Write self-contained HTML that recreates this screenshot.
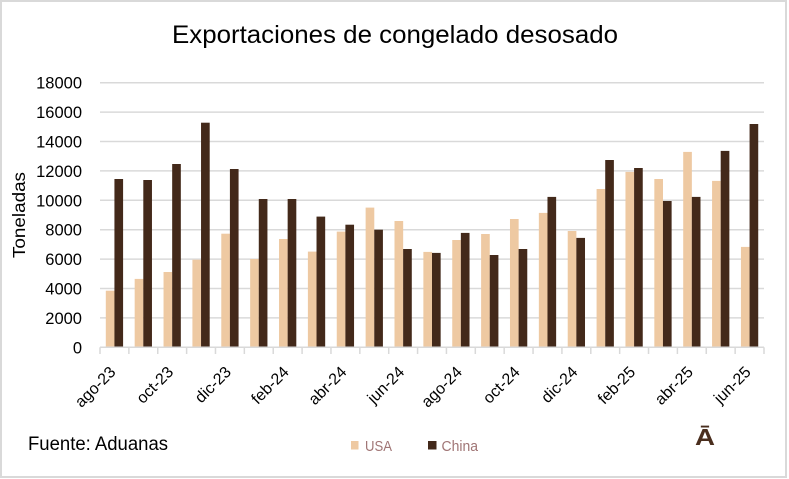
<!DOCTYPE html>
<html>
<head>
<meta charset="utf-8">
<style>
  html,body{margin:0;padding:0;background:#fff;}
  svg{display:block;}
  text{font-family:"Liberation Sans", sans-serif;}
</style>
</head>
<body>
<svg width="789" height="479" viewBox="0 0 789 479" xmlns="http://www.w3.org/2000/svg">
  <rect x="0" y="0" width="789" height="479" fill="#fff"/>
  <rect x="1" y="1" width="785" height="476" fill="none" stroke="#d9d9d9" stroke-width="2"/>

  <!-- Title -->
  <text x="172" y="43" font-size="25" fill="#000" textLength="446" lengthAdjust="spacingAndGlyphs">Exportaciones de congelado desosado</text>

  <!-- Gridlines -->
  <g stroke="#d9d9d9" stroke-width="1.5">
    <line x1="100" y1="82.7" x2="764" y2="82.7"/>
    <line x1="100" y1="112.1" x2="764" y2="112.1"/>
    <line x1="100" y1="141.5" x2="764" y2="141.5"/>
    <line x1="100" y1="170.9" x2="764" y2="170.9"/>
    <line x1="100" y1="200.3" x2="764" y2="200.3"/>
    <line x1="100" y1="229.7" x2="764" y2="229.7"/>
    <line x1="100" y1="259.1" x2="764" y2="259.1"/>
    <line x1="100" y1="288.5" x2="764" y2="288.5"/>
    <line x1="100" y1="317.9" x2="764" y2="317.9"/>
  </g>

  <!-- Y labels -->
  <g font-size="16.5" fill="#000" text-anchor="end">
    <text x="82" y="88.7">18000</text>
    <text x="82" y="118.1">16000</text>
    <text x="82" y="147.5">14000</text>
    <text x="82" y="176.9">12000</text>
    <text x="82" y="206.3">10000</text>
    <text x="82" y="235.7">8000</text>
    <text x="82" y="265.1">6000</text>
    <text x="82" y="294.5">4000</text>
    <text x="82" y="323.9">2000</text>
    <text x="82" y="353.3">0</text>
  </g>

  <!-- Y title -->
  <text transform="translate(25,215) rotate(-90)" font-size="17.5" text-anchor="middle" fill="#000" textLength="86" lengthAdjust="spacingAndGlyphs">Toneladas</text>

  <!-- USA bars -->
  <g fill="#EEC9A2">
    <rect x="105.8" y="290.7" width="8.66" height="56.6"/>
    <rect x="134.67" y="278.9" width="8.66" height="68.4"/>
    <rect x="163.54" y="272.0" width="8.66" height="75.3"/>
    <rect x="192.41" y="259.7" width="8.66" height="87.6"/>
    <rect x="221.28" y="233.7" width="8.66" height="113.6"/>
    <rect x="250.15" y="259.0" width="8.66" height="88.3"/>
    <rect x="279.02" y="239.0" width="8.66" height="108.3"/>
    <rect x="307.89" y="251.6" width="8.66" height="95.7"/>
    <rect x="336.76" y="231.6" width="8.66" height="115.7"/>
    <rect x="365.63" y="207.6" width="8.66" height="139.7"/>
    <rect x="394.5" y="221.0" width="8.66" height="126.3"/>
    <rect x="423.37" y="251.9" width="8.66" height="95.4"/>
    <rect x="452.24" y="240.0" width="8.66" height="107.3"/>
    <rect x="481.11" y="234.0" width="8.66" height="113.3"/>
    <rect x="509.98" y="219.0" width="8.66" height="128.3"/>
    <rect x="538.85" y="212.9" width="8.66" height="134.4"/>
    <rect x="567.72" y="231.0" width="8.66" height="116.3"/>
    <rect x="596.59" y="189.0" width="8.66" height="158.3"/>
    <rect x="625.46" y="171.9" width="8.66" height="175.4"/>
    <rect x="654.33" y="179.0" width="8.66" height="168.3"/>
    <rect x="683.2" y="151.9" width="8.66" height="195.4"/>
    <rect x="712.07" y="180.9" width="8.66" height="166.4"/>
    <rect x="740.94" y="246.9" width="8.66" height="100.4"/>
  </g>

  <!-- China bars -->
  <g fill="#43291A">
    <rect x="114.43" y="179.0" width="8.66" height="168.3"/>
    <rect x="143.3" y="180.0" width="8.66" height="167.3"/>
    <rect x="172.17" y="164.0" width="8.66" height="183.3"/>
    <rect x="201.04" y="122.7" width="8.66" height="224.6"/>
    <rect x="229.91" y="169.0" width="8.66" height="178.3"/>
    <rect x="258.78" y="199.0" width="8.66" height="148.3"/>
    <rect x="287.65" y="199.0" width="8.66" height="148.3"/>
    <rect x="316.52" y="216.6" width="8.66" height="130.7"/>
    <rect x="345.39" y="224.7" width="8.66" height="122.6"/>
    <rect x="374.26" y="229.7" width="8.66" height="117.6"/>
    <rect x="403.13" y="249.0" width="8.66" height="98.3"/>
    <rect x="432.0" y="252.9" width="8.66" height="94.4"/>
    <rect x="460.87" y="232.9" width="8.66" height="114.4"/>
    <rect x="489.74" y="255.0" width="8.66" height="92.3"/>
    <rect x="518.61" y="249.0" width="8.66" height="98.3"/>
    <rect x="547.48" y="196.9" width="8.66" height="150.4"/>
    <rect x="576.35" y="237.9" width="8.66" height="109.4"/>
    <rect x="605.22" y="160.0" width="8.66" height="187.3"/>
    <rect x="634.09" y="168.0" width="8.66" height="179.3"/>
    <rect x="662.96" y="201.0" width="8.66" height="146.3"/>
    <rect x="691.83" y="196.9" width="8.66" height="150.4"/>
    <rect x="720.7" y="150.9" width="8.66" height="196.4"/>
    <rect x="749.57" y="124.0" width="8.66" height="223.3"/>
  </g>

  <!-- X axis + ticks -->
  <g stroke="#d9d9d9" stroke-width="1.5">
    <line x1="100" y1="347.3" x2="764" y2="347.3"/>
    <line x1="100" y1="347.3" x2="100" y2="354"/>
    <line x1="128.87" y1="347.3" x2="128.87" y2="354"/>
    <line x1="157.74" y1="347.3" x2="157.74" y2="354"/>
    <line x1="186.61" y1="347.3" x2="186.61" y2="354"/>
    <line x1="215.48" y1="347.3" x2="215.48" y2="354"/>
    <line x1="244.35" y1="347.3" x2="244.35" y2="354"/>
    <line x1="273.22" y1="347.3" x2="273.22" y2="354"/>
    <line x1="302.09" y1="347.3" x2="302.09" y2="354"/>
    <line x1="330.96" y1="347.3" x2="330.96" y2="354"/>
    <line x1="359.83" y1="347.3" x2="359.83" y2="354"/>
    <line x1="388.7" y1="347.3" x2="388.7" y2="354"/>
    <line x1="417.57" y1="347.3" x2="417.57" y2="354"/>
    <line x1="446.44" y1="347.3" x2="446.44" y2="354"/>
    <line x1="475.31" y1="347.3" x2="475.31" y2="354"/>
    <line x1="504.18" y1="347.3" x2="504.18" y2="354"/>
    <line x1="533.05" y1="347.3" x2="533.05" y2="354"/>
    <line x1="561.92" y1="347.3" x2="561.92" y2="354"/>
    <line x1="590.79" y1="347.3" x2="590.79" y2="354"/>
    <line x1="619.66" y1="347.3" x2="619.66" y2="354"/>
    <line x1="648.53" y1="347.3" x2="648.53" y2="354"/>
    <line x1="677.4" y1="347.3" x2="677.4" y2="354"/>
    <line x1="706.27" y1="347.3" x2="706.27" y2="354"/>
    <line x1="735.14" y1="347.3" x2="735.14" y2="354"/>
    <line x1="764" y1="347.3" x2="764" y2="354"/>
  </g>

  <!-- X labels -->
  <g font-size="16" fill="#000" text-anchor="end">
    <text transform="translate(116.6,373) rotate(-45)">ago-23</text>
    <text transform="translate(174.3,373) rotate(-45)">oct-23</text>
    <text transform="translate(232.1,373) rotate(-45)">dic-23</text>
    <text transform="translate(289.8,373) rotate(-45)">feb-24</text>
    <text transform="translate(347.6,373) rotate(-45)">abr-24</text>
    <text transform="translate(405.3,373) rotate(-45)">jun-24</text>
    <text transform="translate(463.0,373) rotate(-45)">ago-24</text>
    <text transform="translate(520.8,373) rotate(-45)">oct-24</text>
    <text transform="translate(578.5,373) rotate(-45)">dic-24</text>
    <text transform="translate(636.3,373) rotate(-45)">feb-25</text>
    <text transform="translate(694.0,373) rotate(-45)">abr-25</text>
    <text transform="translate(751.8,373) rotate(-45)">jun-25</text>
  </g>

  <!-- Source -->
  <text x="28" y="450" font-size="19" fill="#000" textLength="140" lengthAdjust="spacingAndGlyphs">Fuente: Aduanas</text>

  <!-- Legend -->
  <rect x="351" y="441" width="7.5" height="8.5" fill="#EEC9A2"/>
  <text x="365" y="451" font-size="15" fill="#A07575" textLength="27" lengthAdjust="spacingAndGlyphs">USA</text>
  <rect x="428" y="441" width="8.5" height="8.5" fill="#43291A"/>
  <text x="441.5" y="451" font-size="15" fill="#A07575" textLength="36.5" lengthAdjust="spacingAndGlyphs">China</text>

  <!-- Logo -->
  <text x="695" y="445" font-size="23" font-weight="bold" fill="#4a2e1e" textLength="20" lengthAdjust="spacingAndGlyphs">Ā</text>
</svg>
</body>
</html>
